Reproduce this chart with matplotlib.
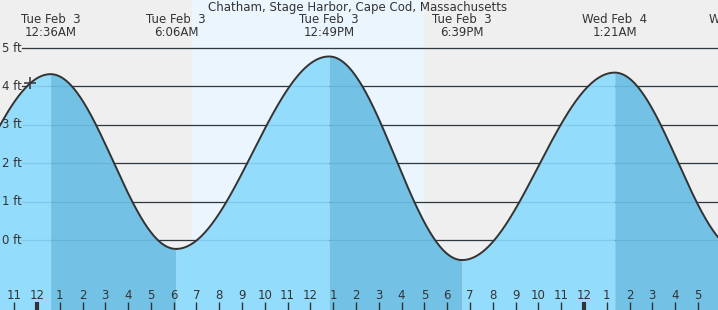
import numpy as np
import matplotlib
matplotlib.use("Agg")
import matplotlib.pyplot as plt

# ---- data (hours since midnight Tue Feb 3) ----
extreme_hours = [-5.55, 0.60, 6.10, 12.82, 18.65, 25.35, 30.90]
extreme_heights = [-0.30, 4.32, -0.23, 4.78, -0.52, 4.36, -0.30]
extreme_days = [None, "Tue Feb  3", "Tue Feb  3", "Tue Feb  3",
                "Tue Feb  3", "Wed Feb  4", "Wed Feb  4"]
extreme_times = [None, "12:36AM", "6:06AM", "12:49PM", "6:39PM", "1:21AM", "6:54AM"]
y_ticks = [0, 1, 2, 3, 4, 5]
y_tick_labels = ["0 ft", "1 ft", "2 ft", "3 ft", "4 ft", "5 ft"]
hour_ticks = list(range(-1, 30))
hour_tick_labels = [str((h - 1) % 12 + 1) for h in hour_ticks]
sunrise, sunset = 6.80, 16.94
now_hour, now_height = -0.31, 4.10
title = "Chatham, Stage Harbor, Cape Cod, Massachusetts"

XMIN, XMAX = -1.62, 29.88
YMIN, YMAX = -1.82, 6.25
H = 310.0
LINE_START = -0.66

C_NIGHT = "#efefef"
C_DAY = "#eaf5fe"
C_LIGHT = "#94dcfc"
C_DARK = "#73c1e4"
C_TEXT = "#333333"
FS = 8.5

fig = plt.figure(figsize=(7.18, 3.10), dpi=100)
ax = fig.add_axes([0, 0, 1, 1])
ax.set_xlim(XMIN, XMAX)
ax.set_ylim(YMIN, YMAX)
ax.axis("off")

ax.axvspan(XMIN, XMAX, color=C_NIGHT, zorder=0)
ax.axvspan(sunrise, sunset, color=C_DAY, zorder=0.5)

# horizontal grid lines (dark, under the fill)
for y in y_ticks:
    ax.plot([LINE_START, XMAX], [y, y], color=C_TEXT, lw=0.9, zorder=1)

# tide curve via cosine interpolation between extremes
segs = []
for i in range(len(extreme_hours) - 1):
    h0, h1 = extreme_hours[i], extreme_hours[i + 1]
    v0, v1 = extreme_heights[i], extreme_heights[i + 1]
    t = np.linspace(0, 1, 120)
    hh = h0 + (h1 - h0) * t
    vv = v0 + (v1 - v0) * (1 - np.cos(np.pi * t)) / 2
    color = C_LIGHT if v1 > v0 else C_DARK
    ax.fill_between(hh, YMIN, vv, color=color, lw=0, zorder=2)
    segs.append((hh, vv))

hh_all = np.concatenate([s[0] for s in segs])
vv_all = np.concatenate([s[1] for s in segs])
ax.plot(hh_all, vv_all, color=C_TEXT, lw=1.4, zorder=4)

# faint grid lines over fill
for y in y_ticks:
    ax.plot([LINE_START, XMAX], [y, y], color="#1a5f8a", alpha=0.14, lw=0.9, zorder=3)

# y labels
for y, lab in zip(y_ticks, y_tick_labels):
    ax.text(XMIN + 0.07, y, lab, ha="left", va="center", fontsize=FS,
            color=C_TEXT, zorder=5)

# current time marker
ax.plot([now_hour], [now_height], marker="+", ms=8, mew=1.1, color=C_TEXT, zorder=5)

# extreme labels
xtr = ax.get_xaxis_transform()
for h, d, tm in zip(extreme_hours, extreme_days, extreme_times):
    if d is None:
        continue
    ax.text(h, 1 - 19.5 / H, d, transform=xtr, ha="center", va="center",
            fontsize=FS, color=C_TEXT, zorder=5)
    ax.text(h, 1 - 32.5 / H, tm, transform=xtr, ha="center",
            va="center", fontsize=FS, color=C_TEXT, zorder=5)

fig.text(358 / 718, 1 - 7.5 / H, title, ha="center", va="center",
         fontsize=FS, color=C_TEXT, zorder=5)

# hour ticks
for h, lab in zip(hour_ticks, hour_tick_labels):
    mid = (h % 24 == 0)
    ax.plot([h, h], [YMIN, YMIN + 0.21], color=C_TEXT,
            lw=3 if mid else 1.0, zorder=5, solid_capstyle="butt")
    ax.text(h, YMIN + 0.37, lab, ha="center", va="center", fontsize=FS,
            color=C_TEXT, zorder=5)

fig.savefig("out.png", dpi=100)
